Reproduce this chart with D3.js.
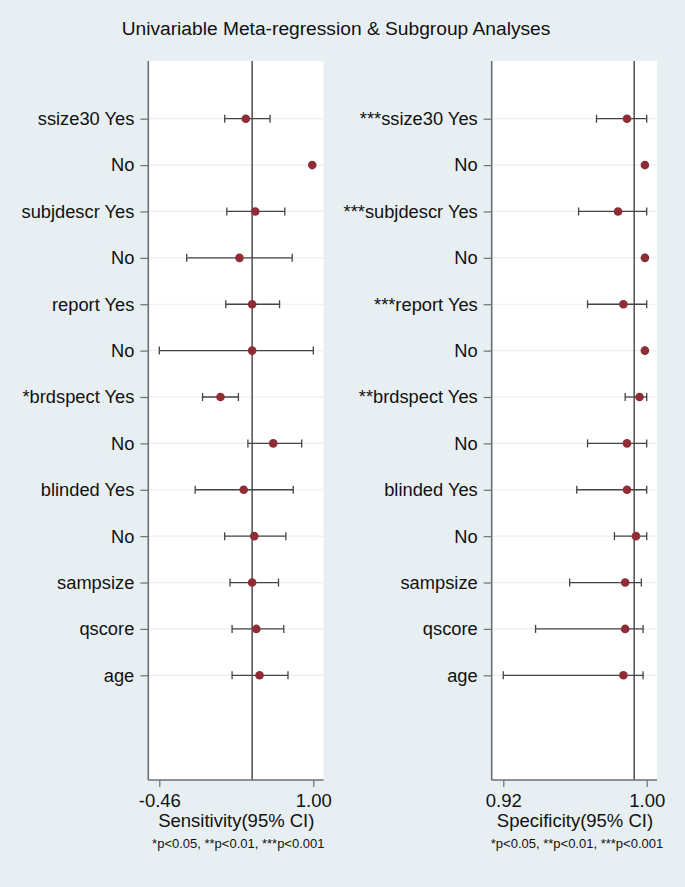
<!DOCTYPE html>
<html>
<head>
<meta charset="utf-8">
<script src="https://cdn.jsdelivr.net/npm/d3@7"></script>
<style>
  body { margin: 0; background: #e8eff2; }
  svg { display: block; font-family: "Liberation Sans", Arial, sans-serif; }
</style>
</head>
<body>
<svg width="685" height="887"></svg>
<script>
// row labels
const sensLabels = ["ssize30 Yes", "No", "subjdescr Yes", "No", "report Yes", "No",
  "*brdspect Yes", "No", "blinded Yes", "No", "sampsize", "qscore", "age"];
const specLabels = ["***ssize30 Yes", "No", "***subjdescr Yes", "No", "***report Yes", "No",
  "**brdspect Yes", "No", "blinded Yes", "No", "sampsize", "qscore", "age"];

// sensitivity estimates (point, lower, upper)
const sensEst = [0.36, 0.99, 0.45, 0.30, 0.42, 0.42, 0.12, 0.62, 0.34, 0.44, 0.42, 0.46, 0.49];
const sensLo  = [0.16, 0.99, 0.18, -0.20, 0.17, -0.46, -0.05, 0.38, -0.12, 0.16, 0.21, 0.23, 0.23];
const sensHi  = [0.59, 0.99, 0.73, 0.80, 0.68, 1.00, 0.29, 0.89, 0.81, 0.74, 0.67, 0.72, 0.76];
const sensRef = 0.42;
const sensTicks = [-0.46, 1.00];

// specificity estimates (point, lower, upper)
const specEst = [0.989, 0.999, 0.984, 0.999, 0.987, 0.999, 0.996, 0.989, 0.989, 0.994, 0.988, 0.988, 0.987];
const specLo  = [0.972, 0.999, 0.962, 0.999, 0.967, 0.999, 0.988, 0.967, 0.961, 0.982, 0.957, 0.938, 0.920];
const specHi  = [1.000, 0.999, 1.000, 0.999, 1.000, 0.999, 1.000, 1.000, 1.000, 1.000, 0.997, 0.998, 0.998];
const specRef = 0.993;
const specTicks = [0.92, 1.00];

const svg = d3.select("svg");

svg.append("text")
  .attr("x", 336).attr("y", 35)
  .attr("text-anchor", "middle")
  .style("font-size", "19.2px")
  .style("fill", "#111")
  .text("Univariable Meta-regression & Subgroup Analyses");

const plotTop = 61, plotBottom = 780;
const y = d3.scaleLinear().domain([0, 12]).range([118.7, 675.3]);

function drawPanel(opts) {
  const g = svg.append("g");
  const x = d3.scaleLinear().domain(opts.domain).range(opts.range);

  // plot region
  g.append("rect")
    .attr("x", opts.left).attr("y", plotTop)
    .attr("width", opts.right - opts.left).attr("height", plotBottom - plotTop)
    .attr("fill", "#fff");

  // grid lines
  g.selectAll(".grid")
    .data(opts.labels)
    .join("line")
    .attr("x1", opts.left).attr("x2", opts.right)
    .attr("y1", (d, i) => y(i)).attr("y2", (d, i) => y(i))
    .attr("stroke", "#e6eff1").attr("stroke-width", 1.2);

  // reference line
  g.append("line")
    .attr("x1", x(opts.ref)).attr("x2", x(opts.ref))
    .attr("y1", plotTop).attr("y2", plotBottom)
    .attr("stroke", "#222").attr("stroke-width", 1.2);

  // left axis with row labels
  const yAxis = d3.axisLeft(y)
    .tickValues(d3.range(opts.labels.length))
    .tickFormat(i => opts.labels[i])
    .tickSize(8).tickPadding(6);
  const ya = g.append("g")
    .attr("transform", `translate(${opts.left},0)`)
    .call(yAxis);
  ya.select(".domain").attr("d", `M0,${plotTop}V${plotBottom}`).attr("stroke", "#6f6f6f").attr("stroke-width", 1.6);
  ya.selectAll(".tick line").attr("stroke", "#6f6f6f").attr("stroke-width", 1.2);
  ya.selectAll(".tick text").style("font-size", "18.3px").style("fill", "#111")
    .style("font-family", "'Liberation Sans', Arial, sans-serif");

  // bottom axis
  const xAxis = d3.axisBottom(x)
    .tickValues(opts.ticks)
    .tickFormat(d => d.toFixed(2))
    .tickSize(7).tickPadding(7);
  const xa = g.append("g")
    .attr("transform", `translate(0,${plotBottom})`)
    .call(xAxis);
  xa.select(".domain").attr("d", `M${opts.left},0H${opts.right}`).attr("stroke", "#6f6f6f").attr("stroke-width", 1.6);
  xa.selectAll(".tick line").attr("stroke", "#6f6f6f").attr("stroke-width", 1.2);
  xa.selectAll(".tick text").style("font-size", "18.5px").style("fill", "#111")
    .style("font-family", "'Liberation Sans', Arial, sans-serif");

  // axis title and footnote
  const cx = (x.range()[0] + x.range()[1]) / 2;
  g.append("text")
    .attr("x", cx).attr("y", 827)
    .attr("text-anchor", "middle")
    .style("font-size", "18.5px").style("fill", "#111")
    .text(opts.title);
  g.append("text")
    .attr("x", cx + 2).attr("y", 847.5)
    .attr("text-anchor", "middle")
    .style("font-size", "13px").style("fill", "#111")
    .text("*p<0.05, **p<0.01, ***p<0.001");

  // confidence intervals
  const ci = g.append("g").attr("stroke", "#444").attr("stroke-width", 1.3);
  ci.selectAll(".ci")
    .data(opts.est)
    .join("line")
    .attr("x1", (d, i) => x(opts.lo[i])).attr("x2", (d, i) => x(opts.hi[i]))
    .attr("y1", (d, i) => y(i)).attr("y2", (d, i) => y(i));
  ci.selectAll(".capl")
    .data(opts.est)
    .join("line")
    .attr("x1", (d, i) => x(opts.lo[i])).attr("x2", (d, i) => x(opts.lo[i]))
    .attr("y1", (d, i) => y(i) - 4).attr("y2", (d, i) => y(i) + 4);
  ci.selectAll(".caph")
    .data(opts.est)
    .join("line")
    .attr("x1", (d, i) => x(opts.hi[i])).attr("x2", (d, i) => x(opts.hi[i]))
    .attr("y1", (d, i) => y(i) - 4).attr("y2", (d, i) => y(i) + 4);

  // point estimates
  g.selectAll(".dot")
    .data(opts.est)
    .join("circle")
    .attr("cx", d => x(d))
    .attr("cy", (d, i) => y(i))
    .attr("r", 4.3)
    .attr("fill", "#8f2c36");
}

drawPanel({
  labels: sensLabels, est: sensEst, lo: sensLo, hi: sensHi, ref: sensRef,
  ticks: sensTicks, domain: [-0.46, 1.00], range: [159.3, 313.3],
  left: 148.3, right: 323.5, title: "Sensitivity(95% CI)"
});

drawPanel({
  labels: specLabels, est: specEst, lo: specLo, hi: specHi, ref: specRef,
  ticks: specTicks, domain: [0.92, 1.00], range: [503.3, 646.7],
  left: 491.7, right: 657, title: "Specificity(95% CI)"
});
</script>
</body>
</html>
